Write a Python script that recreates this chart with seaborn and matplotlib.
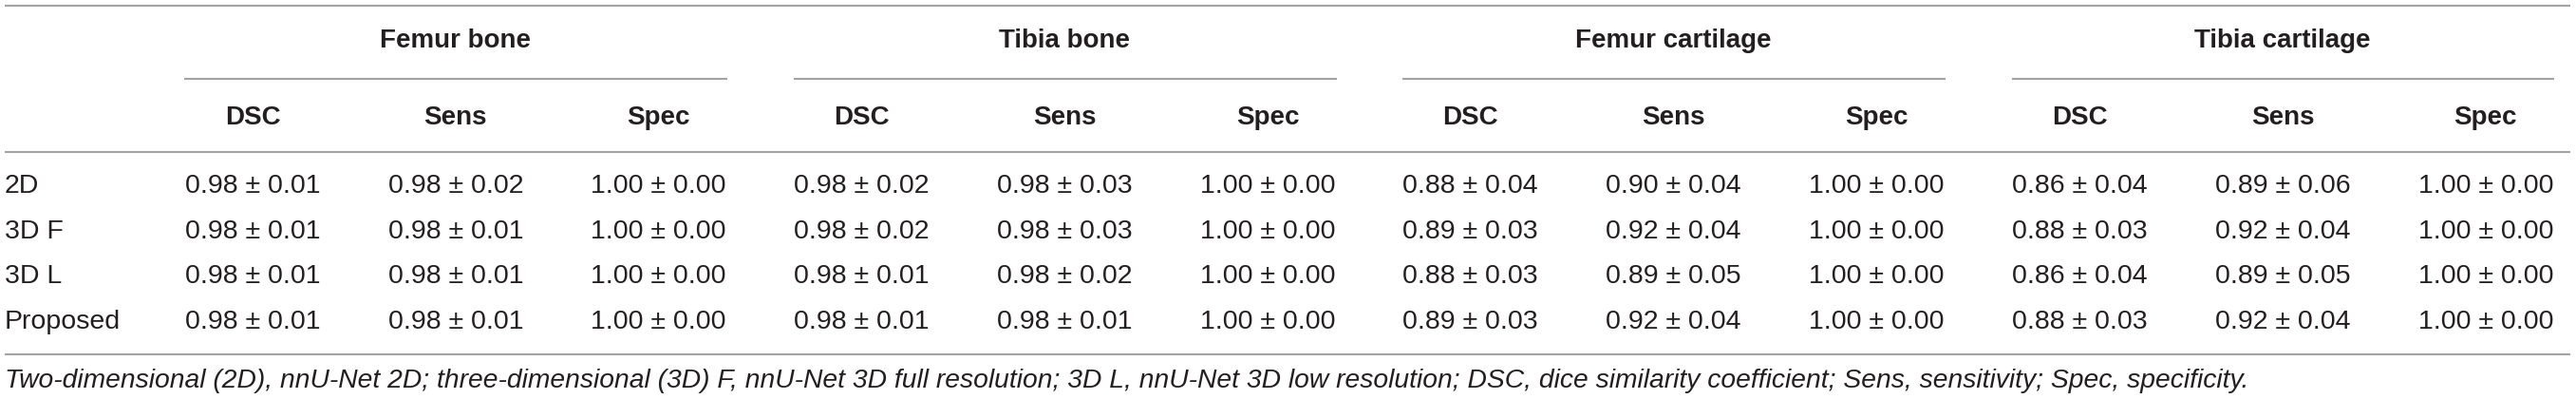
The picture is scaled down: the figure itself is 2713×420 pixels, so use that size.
# tabela de resultados de segmentação (DSC / Sens / Spec)

import matplotlib
matplotlib.use('Agg')
import matplotlib.pyplot as plt
import seaborn as sns

# dados da tabela
grupos = ['Femur bone', 'Tibia bone', 'Femur cartilage', 'Tibia cartilage']
metricas = ['DSC', 'Sens', 'Spec']
metodos = ['2D', '3D F', '3D L', 'Proposed']

femur_bone = [['0.98 ± 0.01', '0.98 ± 0.02', '1.00 ± 0.00'],
              ['0.98 ± 0.01', '0.98 ± 0.01', '1.00 ± 0.00'],
              ['0.98 ± 0.01', '0.98 ± 0.01', '1.00 ± 0.00'],
              ['0.98 ± 0.01', '0.98 ± 0.01', '1.00 ± 0.00']]
tibia_bone = [['0.98 ± 0.02', '0.98 ± 0.03', '1.00 ± 0.00'],
              ['0.98 ± 0.02', '0.98 ± 0.03', '1.00 ± 0.00'],
              ['0.98 ± 0.01', '0.98 ± 0.02', '1.00 ± 0.00'],
              ['0.98 ± 0.01', '0.98 ± 0.01', '1.00 ± 0.00']]
femur_cart = [['0.88 ± 0.04', '0.90 ± 0.04', '1.00 ± 0.00'],
              ['0.89 ± 0.03', '0.92 ± 0.04', '1.00 ± 0.00'],
              ['0.88 ± 0.03', '0.89 ± 0.05', '1.00 ± 0.00'],
              ['0.89 ± 0.03', '0.92 ± 0.04', '1.00 ± 0.00']]
tibia_cart = [['0.86 ± 0.04', '0.89 ± 0.06', '1.00 ± 0.00'],
              ['0.88 ± 0.03', '0.92 ± 0.04', '1.00 ± 0.00'],
              ['0.86 ± 0.04', '0.89 ± 0.05', '1.00 ± 0.00'],
              ['0.88 ± 0.03', '0.92 ± 0.04', '1.00 ± 0.00']]
valores = [femur_bone, tibia_bone, femur_cart, tibia_cart]

nota = ('Two-dimensional (2D), nnU-Net 2D; three-dimensional (3D) F, nnU-Net 3D full resolution; '
        '3D L, nnU-Net 3D low resolution; DSC, dice similarity coefficient; Sens, sensitivity; '
        'Spec, specificity.')

# estilo
sns.set_style('white')
plt.rcParams['font.family'] = ['Liberation Sans', 'DejaVu Sans']

cor_texto = '#231f20'
cor_linha = '#a3a3a3'
lw = 1.5

fig = plt.figure(figsize=(27.13, 4.2), dpi=100)
ax = fig.add_axes([0, 0, 1, 1])

# eixo x: índice da coluna, eixo y: índice da linha
col_px, x0_px = 213.8, 266
lin_px, y0_px = 47.67, 196
ax.set_xlim(-x0_px / col_px, (2713 - x0_px) / col_px)
ax.set_ylim((420 - y0_px) / lin_px, -y0_px / lin_px)
ax.axis('off')

x_rotulo = -261 / col_px
x_fim = (2707 - x0_px) / col_px

# linhas horizontais gerais
for y in [-3.99, -0.76, 3.72]:
    ax.plot([x_rotulo, x_fim], [y, y], color=cor_linha, lw=lw, solid_capstyle='butt')

# cabeçalhos dos grupos
for g, nome in enumerate(grupos):
    c0 = g * 3
    ax.text(c0 + 1, -3.21, nome, ha='center', va='center', fontsize=20,
            fontweight='bold', color=cor_texto)
    ax.plot([c0 - 0.335, c0 + 2.34], [-2.37, -2.37], color=cor_linha, lw=lw,
            solid_capstyle='butt')
    for m, met in enumerate(metricas):
        ax.text(c0 + m, -1.51, met, ha='center', va='center', fontsize=20,
                fontweight='bold', color=cor_texto)

# linhas de dados
for i, metodo in enumerate(metodos):
    ax.text(x_rotulo, i, metodo, ha='left', va='center', fontsize=20.5, color=cor_texto)
    for g, tab in enumerate(valores):
        for m in range(3):
            ax.text(g * 3 + m, i, tab[i][m], ha='center', va='center', fontsize=20.5,
                    color=cor_texto)

# nota de rodapé
ax.text(x_rotulo, 4.30, nota, ha='left', va='center', fontsize=20.3,
        style='italic', color=cor_texto)

plt.savefig('out.png', dpi=100)
